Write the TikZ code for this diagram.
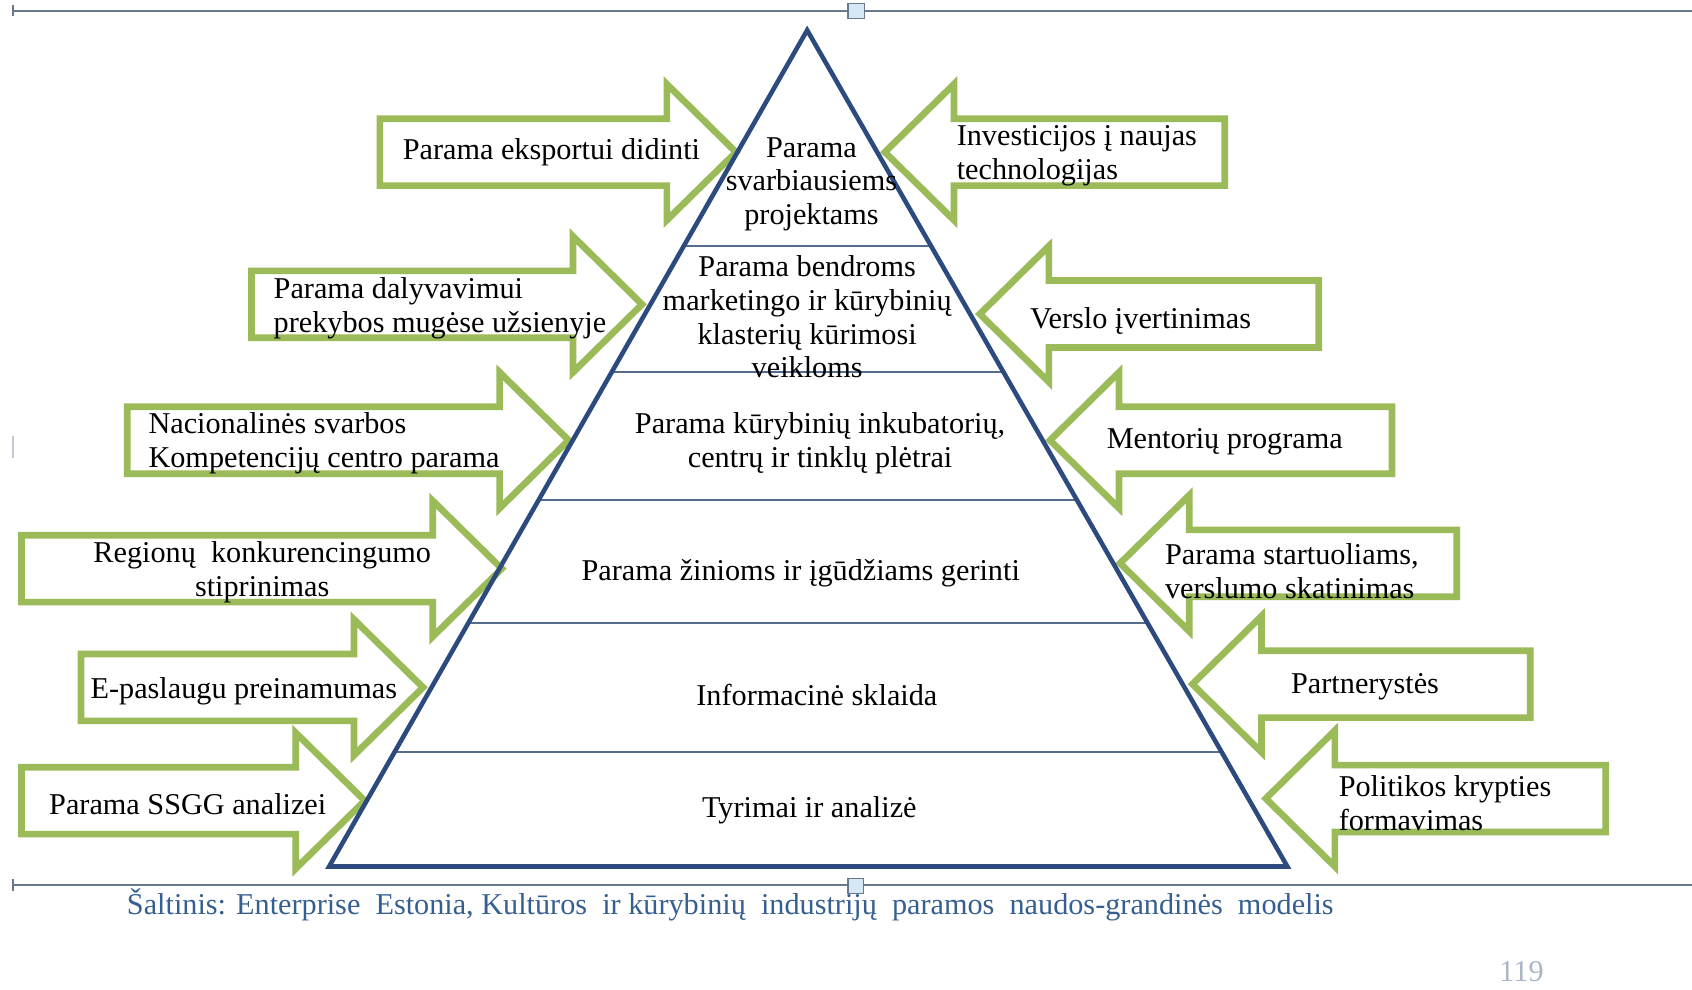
\documentclass[tikz,border=0pt]{standalone}
\usepackage{fontspec}
\setmainfont{Liberation Serif}
\usetikzlibrary{calc,positioning}
\definecolor{arrowgreen}{RGB}{155,187,89}
\definecolor{pyrblue}{RGB}{44,74,125}
\definecolor{tierblue}{RGB}{85,108,140}
\definecolor{framegray}{RGB}{105,120,140}
\definecolor{handleblue}{RGB}{215,232,245}
\definecolor{captionblue}{RGB}{54,95,145}
\definecolor{pagegray}{RGB}{170,182,198}

\begin{document}
\begin{tikzpicture}[x=0.010791cm, y=-0.010791cm, every node/.style={font=\fontsize{8.6}{9.6}\selectfont, inner sep=0pt}]
    \tikzset{blockarrow/.style={draw=arrowgreen, line width=1.9pt, fill=white},
      tier/.style={draw=tierblue, line width=0.5pt},
      pyramid/.style={draw=pyrblue, line width=1.3pt},
      frameline/.style={draw=framegray, line width=0.7pt},
      handle/.style={draw=framegray, fill=handleblue, line width=0.4pt}}
    \useasboundingbox (0,0) rectangle (1568,917);
    % canvas frame
    \draw[frameline] (12,10) -- (1568,10);
    \draw[frameline] (12,5) -- (12,15);
    \draw[frameline] (12,820) -- (1568,820);
    \draw[frameline] (12,815) -- (12,826);
    \draw[draw=framegray!40, line width=0.8pt] (12,404) -- (12,424);
    \draw[handle] (786,3) rectangle (801,17);
    \draw[handle] (786,814) rectangle (800,828);
    % arrows from the left
    \foreach \tail/\tip/\y in {352/682/141, 233/595/282, 118/527/408, 20/465/527, 75/392/637, 20/338/742}
      \draw[blockarrow] (\tail,\y-31) -- (\tip-64,\y-31) -- (\tip-64,\y-63) -- (\tip,\y)
        -- (\tip-64,\y+63) -- (\tip-64,\y+31) -- (\tail,\y+31) -- cycle;
    % arrows from the right
    \foreach \tail/\tip/\y in {1135/820/141, 1222/908/291, 1290/973/408, 1350/1038/522, 1418/1105/634, 1488/1173/740}
      \draw[blockarrow] (\tail,\y-31) -- (\tip+64,\y-31) -- (\tip+64,\y-63) -- (\tip,\y)
        -- (\tip+64,\y+63) -- (\tip+64,\y+31) -- (\tail,\y+31) -- cycle;
    % pyramid
    \coordinate (apex) at (748,28);
    \coordinate (baseL) at (305,803);
    \coordinate (baseR) at (1193,803);
    \foreach \y in {228,345,463,577,697}
      \draw[tier] ($(apex)!{(\y-28)/775}!(baseL)$) -- ($(apex)!{(\y-28)/775}!(baseR)$);
    \draw[pyramid] (apex) -- (baseL) -- (baseR) -- cycle;

    \begin{scope}[every node/.append style={yshift=-0.8pt}]
    \node[align=center] (top) at (752,168) {Parama\\svarbiausiems\\projektams};
    \node[align=center] (cluster) at (748,291) {Parama bendroms\\marketingo ir kūrybinių\\klasterių kūrimosi\\veikloms};
    \node[align=center] (incub) at (760,408) {Parama kūrybinių inkubatorių,\\centrų ir tinklų plėtrai};
    \node (skills) at (742,529) {Parama žinioms ir įgūdžiams gerinti};
    \node (info) at (757,641) {Informacinė sklaida};
    \node (research) at (750,748) {Tyrimai ir analizė};

    \node (export) at (511,138) {Parama eksportui didinti};
    \node[align=left, anchor=west] (fairs) at (253,283) {Parama dalyvavimui\\prekybos mugėse užsienyje};
    \node[align=left, anchor=west] (centre) at (137,408) {Nacionalinės svarbos\\Kompetencijų centro parama};
    \node[align=center] (regions) at (243,528) {Regionų\ \ konkurencingumo\\stiprinimas};
    \node (eserv) at (226,638) {E-paslaugu preinamumas};
    \node (swot) at (174,743) {Parama SSGG analizei};

    \node[align=left, anchor=west] (invest) at (886,142) {Investicijos į naujas\\technologijas};
    \node (assess) at (1057,295) {Verslo įvertinimas};
    \node (mentor) at (1135,407) {Mentorių programa};
    \node[align=left, anchor=west] (startup) at (1079,527) {Parama startuoliams,\\verslumo skatinimas};
    \node (partner) at (1265,634) {Partnerystės};
    \node[align=left, anchor=west] (policy) at (1240,742) {Politikos krypties\\formavimas};
    \end{scope}

    \node[anchor=west, text=captionblue] (source) at (117,838) {Šaltinis: Enterprise\ \ Estonia, Kultūros\ \ ir kūrybinių\ \ industrijų\ \ paramos\ \ naudos-grandinės\ \ modelis};
    \node[text=pagegray] (page) at (1410,900) {119};
\end{tikzpicture}
\end{document}
